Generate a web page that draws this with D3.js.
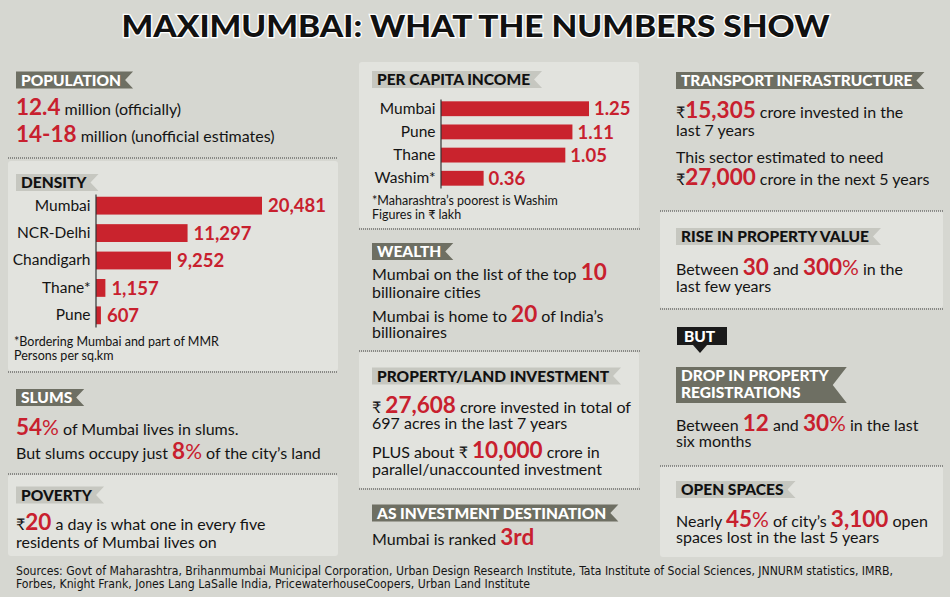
<!DOCTYPE html>
<html>
<head>
<meta charset="utf-8">
<script src="https://cdn.jsdelivr.net/npm/d3@7"></script>
<style>
  html, body { margin: 0; padding: 0; background: #d6d7d1; }
  svg { display: block; }
  text { font-family: Lato, "Noto Sans", sans-serif; fill: #141414; }
  .body { font-size: 16px; }
  .red { font-size: 22.5px; font-weight: 700; fill: #c8202e; }
  .redpct { font-size: 21px; font-weight: 400; fill: #c8202e; }
  .note { font-size: 12.5px; }
  .tagtxt { font-size: 15.5px; font-weight: 900; }
  .val { font-size: 18.5px; font-weight: 700; fill: #c8202e; }
  .cat { font-size: 15.5px; }
</style>
</head>
<body>
<svg id="chart" width="950" height="597"></svg>
<script>
// ---------- DATA ----------
const titleText = "MAXIMUMBAI: WHAT THE NUMBERS SHOW";

const densityCities = ["Mumbai", "NCR-Delhi", "Chandigarh", "Thane*", "Pune"];
const densityValues = [20481, 11297, 9252, 1157, 607];
const densityNotes = ["*Bordering Mumbai and part of MMR", "Persons per sq.km"];

const incomeCities = ["Mumbai", "Pune", "Thane", "Washim*"];
const incomeValues = [1.25, 1.11, 1.05, 0.36];
const incomeNotes = ["*Maharashtra\u2019s poorest is Washim", "Figures in \u20b9 lakh"];

const populationLines = ["[12.4] million (officially)", "[14-18] million (unofficial estimates)"];
const slumsLines = ["[54%] of Mumbai lives in slums.", "But slums occupy just [8%] of the city\u2019s land"];
const povertyLines = ["\u20b9[20] a day is what one in every five", "residents of Mumbai lives on"];
const wealthLines = ["Mumbai on the list of the top [10]", "billionaire cities", "Mumbai is home to [20] of India\u2019s", "billionaires"];
const propertyLines = ["\u20b9 [27,608] crore invested in total of", "697 acres in the last 7 years", "PLUS about \u20b9 [10,000] crore in", "parallel/unaccounted investment"];
const rankLines = ["Mumbai is ranked [3rd]"];
const transportLines = ["\u20b9[15,305] crore invested in the", "last 7 years", "This sector estimated to need", "\u20b9[27,000] crore in the next 5 years"];
const riseLines = ["Between [30] and [300%] in the", "last few years"];
const dropLines = ["Between [12] and [30%] in the last", "six months"];
const openLines = ["Nearly [45%] of city\u2019s [3,100] open", "spaces lost in the last 5 years"];

const sourceLines = [
  "Sources: Govt of Maharashtra, Brihanmumbai Municipal Corporation, Urban Design Research Institute, Tata Institute of Social Sciences, JNNURM statistics, IMRB,",
  "Forbes, Knight Frank, Jones Lang LaSalle India, PricewaterhouseCoopers, Urban Land Institute"
];

// ---------- DRAWING ----------
const svg = d3.select("#chart");
const RED = "#c9232d";
const DARK_TAG = "#6e6f63";
const LIGHT_TAG = "#c6c7c0";
const PANEL = "#e2e3de";

svg.append("rect").attr("width", 950).attr("height", 597).attr("fill", "#d6d7d1");

// lighter panels
const panels = [
  [8, 161, 330, 210], [8, 475, 330, 81],
  [359, 62, 280, 166], [359, 352, 280, 136],
  [660, 211, 283, 97], [660, 466, 283, 91]
];
svg.selectAll("rect.panel").data(panels).join("rect")
  .attr("class", "panel")
  .attr("x", d => d[0]).attr("y", d => d[1]).attr("width", d => d[2]).attr("height", d => d[3])
  .attr("rx", 3).attr("fill", PANEL);

// dotted separators
const seps = [
  [8, 338, 158], [8, 338, 372], [8, 338, 474],
  [359, 640, 229], [359, 640, 351], [359, 640, 489],
  [660, 943, 211], [660, 943, 309], [660, 943, 466]
];
svg.selectAll("line.sep").data(seps).join("line")
  .attr("class", "sep")
  .attr("x1", d => d[0]).attr("x2", d => d[1]).attr("y1", d => d[2]).attr("y2", d => d[2])
  .attr("stroke", "#3a3a3a").attr("stroke-width", 1).attr("stroke-dasharray", "1,1");

// title
svg.append("text")
  .attr("x", 475.5).attr("y", 37)
  .attr("text-anchor", "middle")
  .attr("textLength", 708).attr("lengthAdjust", "spacingAndGlyphs")
  .style("font-size", "31px").style("font-weight", 900)
  .style("fill", "#111").style("stroke", "#fff").style("stroke-width", 2.5)
  .style("paint-order", "stroke")
  .text(titleText);

// tag ribbons
function tag(x, y, lines, dark) {
  const g = svg.append("g");
  const h = lines.length === 1 ? 17 : 36;
  const poly = g.append("polygon");
  const texts = lines.map((l, i) => g.append("text")
    .attr("class", "tagtxt")
    .attr("x", x + 5)
    .attr("y", y + 14 + i * 16.5)
    .style("fill", dark ? "#fff" : "#111")
    .text(l));
  const w = d3.max(texts, t => t.node().getComputedTextLength());
  const notch = lines.length === 1 ? 8 : 14;
  const x1 = x + 5 + w + 4 + notch;
  poly.attr("points", [[x, y], [x1, y], [x1 - notch, y + h / 2], [x1, y + h], [x, y + h]].map(p => p.join(",")).join(" "))
    .attr("fill", dark ? DARK_TAG : LIGHT_TAG);
}

// rich text with red numbers
function richBlock(x, ys, lines) {
  lines.forEach((str, i) => {
    const t = svg.append("text").attr("class", "body").attr("x", x).attr("y", ys[i]);
    str.split(/(\[[^\]]+\])/).forEach(p => {
      if (!p) return;
      if (p.startsWith("[")) {
        p.slice(1, -1).split(/(%)/).forEach(q => {
          if (!q) return;
          t.append("tspan").attr("class", q === "%" ? "redpct" : "red").text(q);
        });
      } else {
        t.append("tspan").text(p);
      }
    });
  });
}

function notes(x, ys, lines) {
  lines.forEach((l, i) => svg.append("text").attr("class", "note").attr("x", x).attr("y", ys[i]).text(l));
}

// bar chart helper
function barChart(cats, vals, x0, x1max, yRange, pad, fmt, valGap) {
  const x = d3.scaleLinear().domain([0, d3.max(vals)]).range([x0, x1max]);
  const y = d3.scaleBand().domain(cats).range(yRange).paddingInner(pad).paddingOuter(0.1);
  const g = svg.append("g");
  g.selectAll("rect").data(cats).join("rect")
    .attr("x", x(0)).attr("y", c => y(c))
    .attr("width", (c, i) => x(vals[i]) - x(0))
    .attr("height", y.bandwidth())
    .attr("fill", RED);
  g.selectAll("text.val").data(cats).join("text")
    .attr("class", "val")
    .attr("x", (c, i) => x(vals[i]) + valGap)
    .attr("y", c => y(c) + y.bandwidth() / 2)
    .attr("dy", "0.36em")
    .text((c, i) => fmt(vals[i]));
  const ax = g.append("g").attr("transform", `translate(${x(0) - 0.5},0)`)
    .call(d3.axisLeft(y).tickSize(0).tickSizeOuter(0).tickPadding(5));
  ax.select(".domain").attr("stroke", "#333").attr("stroke-width", 1.2);
  ax.selectAll(".tick text").attr("class", "cat").attr("fill", "#141414")
    .style("font-family", "Lato, 'Noto Sans', sans-serif").style("font-size", "15.5px");
}

// ---- column 1 ----
tag(16, 71.5, ["POPULATION"], true);
richBlock(16, [115, 141.5], populationLines);

tag(16, 174, ["DENSITY"], false);
barChart(densityCities, densityValues, 96, 262, [194, 327], 0.35, d3.format(","), 6);
notes(14, [346, 360], densityNotes);

tag(16, 389, ["SLUMS"], true);
richBlock(16, [435, 459], slumsLines);

tag(16, 486.5, ["POVERTY"], false);
richBlock(16, [530, 548], povertyLines);

// ---- column 2 ----
tag(372, 71, ["PER CAPITA INCOME"], false);
barChart(incomeCities, incomeValues, 441, 589, [99, 188], 0.36, d3.format(".2f"), 5);
notes(372, [205, 219], incomeNotes);

tag(372, 243, ["WEALTH"], true);
richBlock(372, [280, 298, 322, 338], wealthLines);

tag(372, 367.5, ["PROPERTY/LAND INVESTMENT"], false);
richBlock(372, [413, 429, 458, 475], propertyLines);

tag(372, 504.5, ["AS INVESTMENT DESTINATION"], true);
richBlock(372, [545], rankLines);

// ---- column 3 ----
tag(676, 72, ["TRANSPORT INFRASTRUCTURE"], true);
richBlock(676, [118, 136, 163, 185], transportLines);

tag(676, 228, ["RISE IN PROPERTY VALUE"], false);
richBlock(676, [275, 292], riseLines);

// BUT marker
svg.append("rect").attr("x", 677).attr("y", 327).attr("width", 50).attr("height", 18).attr("fill", "#1a1a1a");
svg.append("polygon").attr("points", "693,345 707,345 700,353").attr("fill", "#1a1a1a");
svg.append("text").attr("class", "tagtxt").attr("x", 684).attr("y", 342).style("fill", "#fff").text("BUT");

tag(676, 367, ["DROP IN PROPERTY", "REGISTRATIONS"], true);
richBlock(676, [431, 447], dropLines);

tag(676, 481, ["OPEN SPACES"], false);
richBlock(676, [527, 543], openLines);

// sources
const srcFont = "'Liberation Sans Narrow', 'DejaVu Sans Condensed', 'Arial Narrow', sans-serif";
svg.append("text").attr("x", 16).attr("y", 575)
  .attr("textLength", 877).attr("lengthAdjust", "spacingAndGlyphs")
  .style("font-family", srcFont).style("font-size", "12.5px").text(sourceLines[0]);
svg.append("text").attr("x", 16).attr("y", 588)
  .attr("textLength", 514).attr("lengthAdjust", "spacingAndGlyphs")
  .style("font-family", srcFont).style("font-size", "12.5px").text(sourceLines[1]);
</script>
</body>
</html>
